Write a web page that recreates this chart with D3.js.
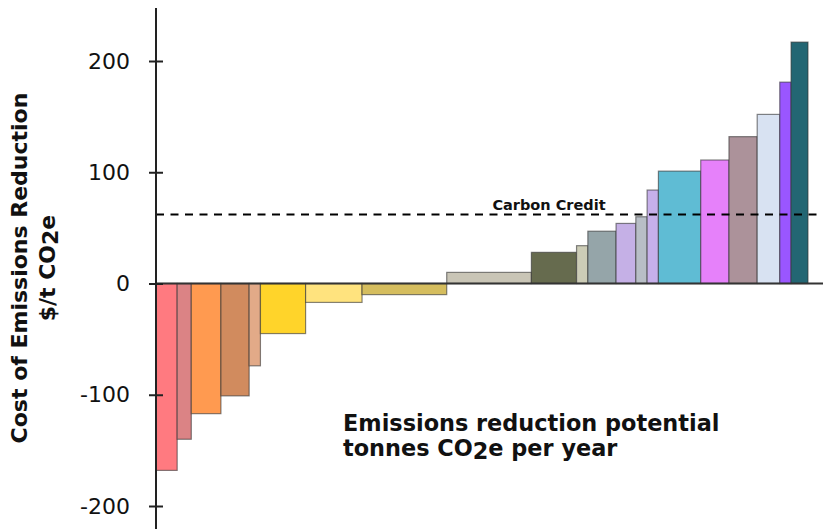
<!DOCTYPE html>
<html>
<head>
<meta charset="utf-8">
<script src="https://cdn.jsdelivr.net/npm/d3@7"></script>
<style>
  html, body { margin: 0; padding: 0; background: #fff; }
  svg { display: block; font-family: "DejaVu Sans", Verdana, sans-serif; }
</style>
</head>
<body>
<svg id="chart" width="823" height="529"></svg>
<script>
// Abatement measures, ordered from cheapest to most expensive.
// Width = reduction potential (thousand t CO2e / yr), cost = $/t CO2e.
const potentials = [7.5, 5, 10.5, 10, 4, 16, 20, 30, 30, 16, 4, 10, 7, 4, 4, 15, 10, 10, 8, 4, 6];
const costs = [-168, -140, -117, -101, -74, -45, -17, -10, 10, 28, 34, 47, 54, 60, 84, 101, 111, 132, 152, 181, 217];
const barColors = [
  "#ff7a80", "#db8385", "#ff9a50", "#d18b5e", "#e2aa88", "#ffd42a", "#ffe37e",
  "#d5bd5e", "#c9c5b6", "#666b4e", "#ccccb6", "#95a5a9", "#c5b0e6", "#b8bec6",
  "#c6b0ea", "#5fbcd4", "#e681fa", "#ac929a", "#d8e2f2", "#9a56ff", "#236673"
];
const carbonCredit = 62;
const yTicks = [-200, -100, 0, 100, 200];

const svg = d3.select("#chart");
const W = 823, H = 529;

// running start of each block along the x axis
const starts = [];
potentials.reduce((acc, w) => { starts.push(acc); return acc + w; }, 0);
const totalPotential = d3.sum(potentials);

const x = d3.scaleLinear().domain([0, totalPotential]).range([156, 808]);
const y = d3.scaleLinear().domain([-200, 200]).range([506, 61]);

// bars
svg.append("g")
  .selectAll("rect")
  .data(costs)
  .join("rect")
  .attr("x", (d, i) => x(starts[i]))
  .attr("width", (d, i) => x(starts[i] + potentials[i]) - x(starts[i]))
  .attr("y", d => Math.min(y(d), y(0)))
  .attr("height", d => Math.abs(y(d) - y(0)))
  .attr("fill", (d, i) => barColors[i])
  .attr("stroke", "#333")
  .attr("stroke-opacity", 0.6)
  .attr("stroke-width", 1.2);

// zero line
svg.append("line")
  .attr("x1", x(0)).attr("x2", W)
  .attr("y1", y(0)).attr("y2", y(0))
  .attr("stroke", "#333").attr("stroke-width", 2);

// carbon credit price
svg.append("line")
  .attr("x1", x(0)).attr("x2", W)
  .attr("y1", y(carbonCredit)).attr("y2", y(carbonCredit))
  .attr("stroke", "#000").attr("stroke-width", 2)
  .attr("stroke-dasharray", "8,6.5");

svg.append("text")
  .attr("x", 549).attr("y", y(carbonCredit) - 5)
  .attr("text-anchor", "middle")
  .attr("font-size", 14.5).attr("font-weight", "bold")
  .attr("fill", "#111")
  .text("Carbon Credit");

// y axis
const yAxis = d3.axisLeft(y).tickValues(yTicks).tickSize(0).tickPadding(26)
  .tickFormat(d => String(d));
const gy = svg.append("g").attr("transform", `translate(${x(0)},0)`).call(yAxis);
gy.select(".domain").remove();
gy.selectAll("text").attr("font-size", 22).attr("fill", "#111")
  .attr("font-family", "DejaVu Sans, Verdana, sans-serif");
gy.selectAll(".tick").append("line")
  .attr("x1", -7).attr("x2", 7)
  .attr("stroke", "#222").attr("stroke-width", 2);
svg.append("line")
  .attr("x1", x(0)).attr("x2", x(0))
  .attr("y1", 8).attr("y2", H)
  .attr("stroke", "#222").attr("stroke-width", 2);

// y axis title
const yt = svg.append("text")
  .attr("transform", "translate(0,268) rotate(-90)")
  .attr("text-anchor", "middle")
  .attr("font-weight", "bold").attr("font-size", 22).attr("fill", "#111");
yt.append("tspan").attr("x", 0).attr("y", 27).text("Cost of Emissions Reduction");
const l2 = yt.append("tspan").attr("x", 0).attr("y", 55);
l2.text("$/t CO");
yt.append("tspan").attr("dy", 3).text("2");
yt.append("tspan").attr("dy", -3).text("e");

// x axis caption
const xt = svg.append("text")
  .attr("font-weight", "bold").attr("font-size", 22.4).attr("fill", "#111");
xt.append("tspan").attr("x", 343).attr("y", 431).text("Emissions reduction potential");
xt.append("tspan").attr("x", 343).attr("y", 456).text("tonnes CO");
xt.append("tspan").attr("dy", 3).text("2");
xt.append("tspan").attr("dy", -3).text("e per year");
</script>
</body>
</html>
